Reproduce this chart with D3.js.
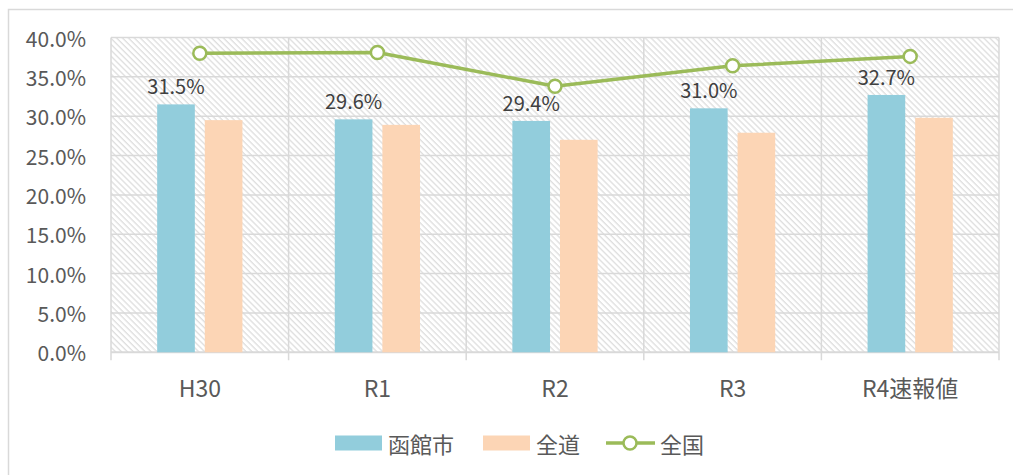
<!DOCTYPE html>
<html>
<head>
<meta charset="utf-8">
<script src="https://cdn.jsdelivr.net/npm/d3@7"></script>
<style>
  html, body { margin: 0; padding: 0; background: #fff; }
  svg { display: block; }
  text { font-family: "Noto Sans CJK JP", "Noto Sans", sans-serif; }
</style>
</head>
<body>
<svg id="chart" width="1013" height="475"></svg>
<script>
const categories = ["H30", "R1", "R2", "R3", "R4速報値"];
const hakodate = [31.5, 29.6, 29.4, 31.0, 32.7];
const zendo = [29.5, 28.9, 27.0, 27.9, 29.8];
const zenkoku = [38.0, 38.1, 33.8, 36.4, 37.6];
const yTicks = [0, 5, 10, 15, 20, 25, 30, 35, 40];
const seriesNames = ["函館市", "全道", "全国"];

const colors = { hakodate: "#92CDDC", zendo: "#FCD5B5", zenkoku: "#9BBB59" };

const svg = d3.select("#chart");
const W = 1013, H = 475;
const plot = { left: 111, right: 999, top: 37.5, bottom: 352.3 };

// outer frame (extends beyond visible area to right/bottom)
svg.append("rect")
  .attr("x", 8.5).attr("y", 9.5)
  .attr("width", W + 20).attr("height", H + 20)
  .attr("fill", "#fff").attr("stroke", "#D9D9D9").attr("stroke-width", 1.5);

const defs = svg.append("defs");
const pat = defs.append("pattern")
  .attr("id", "hatch")
  .attr("patternUnits", "userSpaceOnUse")
  .attr("width", 4.2).attr("height", 4.2)
  .attr("patternTransform", "rotate(-45)");
pat.append("rect").attr("width", 4.2).attr("height", 4.2).attr("fill", "#fff");
pat.append("line").attr("x1", 1).attr("y1", 0).attr("x2", 1).attr("y2", 4.2)
  .attr("stroke", "#DEDEDE").attr("stroke-width", 1.3);

const x = d3.scaleBand().domain(categories).range([plot.left, plot.right]).padding(0);
const y = d3.scaleLinear().domain([0, 40]).range([plot.bottom, plot.top]);

// plot background
svg.append("rect")
  .attr("x", plot.left).attr("y", plot.top)
  .attr("width", plot.right - plot.left).attr("height", plot.bottom - plot.top)
  .attr("fill", "url(#hatch)");

// horizontal gridlines
svg.append("g").selectAll("line").data(yTicks).join("line")
  .attr("x1", plot.left).attr("x2", plot.right)
  .attr("y1", d => y(d)).attr("y2", d => y(d))
  .attr("stroke", "#D9D9D9").attr("stroke-width", d => d === 0 ? 2 : 1.5);

// vertical gridlines at category boundaries (with ticks below baseline)
const bounds = categories.map(c => x(c)).concat([x(categories[categories.length - 1]) + x.bandwidth()]);
svg.append("g").selectAll("line").data(bounds).join("line")
  .attr("x1", d => d).attr("x2", d => d)
  .attr("y1", plot.top).attr("y2", plot.bottom + 8)
  .attr("stroke", "#D9D9D9").attr("stroke-width", 1.5);

// y-axis labels
svg.append("g").selectAll("text").data(yTicks).join("text")
  .attr("x", 86).attr("y", d => y(d))
  .attr("text-anchor", "end").attr("dominant-baseline", "central")
  .attr("font-size", 21).attr("fill", "#595959")
  .text(d => d.toFixed(1) + "%");

// x-axis labels
svg.append("g").selectAll("text").data(categories).join("text")
  .attr("x", d => x(d) + x.bandwidth() / 2).attr("y", 387)
  .attr("text-anchor", "middle").attr("dominant-baseline", "central")
  .attr("font-size", 23).attr("fill", "#595959")
  .text(d => d);

// bars
const barW = x.bandwidth() * 0.212;
const gap = x.bandwidth() * 0.056;
const g1 = svg.append("g");
g1.selectAll("rect.h").data(categories).join("rect")
  .attr("class", "h")
  .attr("x", d => x(d) + x.bandwidth() / 2 - gap / 2 - barW)
  .attr("y", (d, i) => y(hakodate[i]))
  .attr("width", barW)
  .attr("height", (d, i) => y(0) - y(hakodate[i]))
  .attr("fill", colors.hakodate);
g1.selectAll("rect.z").data(categories).join("rect")
  .attr("class", "z")
  .attr("x", d => x(d) + x.bandwidth() / 2 + gap / 2)
  .attr("y", (d, i) => y(zendo[i]))
  .attr("width", barW)
  .attr("height", (d, i) => y(0) - y(zendo[i]))
  .attr("fill", colors.zendo);

// data labels for 函館市
svg.append("g").selectAll("text").data(categories).join("text")
  .attr("x", d => x(d) + x.bandwidth() / 2 - gap / 2 - barW / 2)
  .attr("y", (d, i) => y(hakodate[i]) - 10)
  .attr("text-anchor", "middle")
  .attr("font-size", 20).attr("fill", "#404040")
  .text((d, i) => hakodate[i].toFixed(1) + "%");

// 全国 line
const line = d3.line()
  .x((d, i) => x(categories[i]) + x.bandwidth() / 2)
  .y(d => y(d));
svg.append("path").datum(zenkoku)
  .attr("d", line).attr("fill", "none")
  .attr("stroke", colors.zenkoku).attr("stroke-width", 3.5)
  .attr("stroke-linejoin", "round");
svg.append("g").selectAll("circle").data(zenkoku).join("circle")
  .attr("cx", (d, i) => x(categories[i]) + x.bandwidth() / 2)
  .attr("cy", d => y(d))
  .attr("r", 6.5)
  .attr("fill", "#fff").attr("stroke", colors.zenkoku).attr("stroke-width", 2.5);

// legend
const ly = 443;
const leg = svg.append("g");
leg.append("rect").attr("x", 335).attr("y", ly - 7.5).attr("width", 47).attr("height", 15).attr("fill", colors.hakodate);
leg.append("text").attr("x", 388).attr("y", ly).attr("dominant-baseline", "central")
  .attr("font-size", 22).attr("fill", "#595959").text(seriesNames[0]);
leg.append("rect").attr("x", 483).attr("y", ly - 7.5).attr("width", 47).attr("height", 15).attr("fill", colors.zendo);
leg.append("text").attr("x", 536).attr("y", ly).attr("dominant-baseline", "central")
  .attr("font-size", 22).attr("fill", "#595959").text(seriesNames[1]);
leg.append("line").attr("x1", 606).attr("x2", 655).attr("y1", ly).attr("y2", ly)
  .attr("stroke", colors.zenkoku).attr("stroke-width", 3.5);
leg.append("circle").attr("cx", 630).attr("cy", ly).attr("r", 6.5)
  .attr("fill", "#fff").attr("stroke", colors.zenkoku).attr("stroke-width", 2.5);
leg.append("text").attr("x", 660).attr("y", ly).attr("dominant-baseline", "central")
  .attr("font-size", 22).attr("fill", "#595959").text(seriesNames[2]);
</script>
</body>
</html>
